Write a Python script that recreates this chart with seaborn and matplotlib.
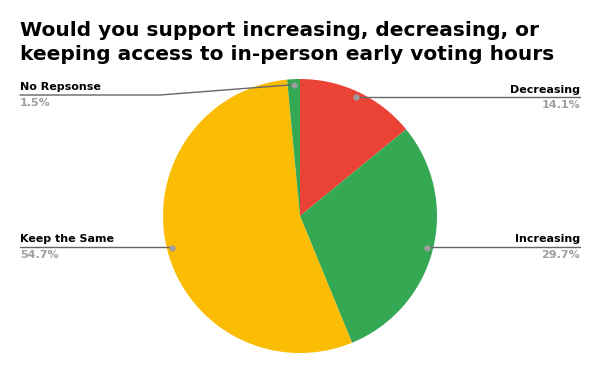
import matplotlib
matplotlib.use("Agg")
import matplotlib.pyplot as plt
import seaborn as sns
import numpy as np

sns.set_theme(style="white")
plt.rcParams['font.family'] = ['DejaVu Sans']

categories = ["Decreasing", "Increasing", "Keep the Same", "No Repsonse"]
values = [14.1, 29.7, 54.7, 1.5]
pct_labels = ["14.1%", "29.7%", "54.7%", "1.5%"]
colors = ["#EA4335", "#34A853", "#FBBC04", "#34A853"]
title = "Would you support increasing, decreasing, or\nkeeping access to in-person early voting hours"

W, H = 600, 371
fig = plt.figure(figsize=(6, 3.71), dpi=100)
cx, cy, r = 300, 216, 137
ax = fig.add_axes([(cx - r) / W, (H - cy - r) / H, 2 * r / W, 2 * r / H])
ax.pie(values, colors=colors, startangle=90, counterclock=False, radius=1,
       wedgeprops=dict(linewidth=0))
ax.set_xlim(-1, 1)
ax.set_ylim(-1, 1)
ax.set_aspect("equal")
ax.axis("off")

fig.text(20 / W, 1 - 21 / H, title, fontsize=14.5, fontweight="heavy",
         ha="left", va="top", color="black", linespacing=1.3)

# label layout: (side, label y px, line y px, pct y px)
layout = {
    "Decreasing": ("right", 90, 97, 105),
    "Increasing": ("right", 239, 247, 255),
    "Keep the Same": ("left", 239, 247, 255),
    "No Repsonse": ("left", 87, 95, 103),
}
cum = np.cumsum([0] + values)
total = sum(values)
for i, cat in enumerate(categories):
    mid = (cum[i] + values[i] / 2) / total * 360
    ang = np.deg2rad(90 - mid)
    px, py = 0.96 * np.cos(ang), 0.96 * np.sin(ang)
    dx, dy = ax.transData.transform((px, py))
    dy_px = H - dy
    side, ly, lny, pyy = layout[cat]
    if side == "right":
        xs = [dx, 580]
        ys = [lny, lny]
        tx, ha = 580, "right"
    else:
        if cat == "No Repsonse":
            xs = [20, 160, dx]
            ys = [lny, lny, dy_px]
        else:
            xs = [20, dx]
            ys = [lny, lny]
        tx, ha = 20, "left"
    fig.add_artist(plt.Line2D([x / W for x in xs], [1 - y / H for y in ys],
                              color="#666666", linewidth=1.0))
    fig.add_artist(plt.Line2D([dx / W], [1 - dy_px / H], marker="o",
                              markersize=3.5, color="#9e9e9e", linewidth=0))
    fig.text(tx / W, 1 - ly / H, cat, fontsize=8, fontweight="heavy",
             ha=ha, va="center", color="black")
    fig.text(tx / W, 1 - pyy / H, pct_labels[i], fontsize=8, fontweight="bold",
             ha=ha, va="center", color="#9e9e9e")

fig.savefig("out.png", dpi=100, facecolor="white")
